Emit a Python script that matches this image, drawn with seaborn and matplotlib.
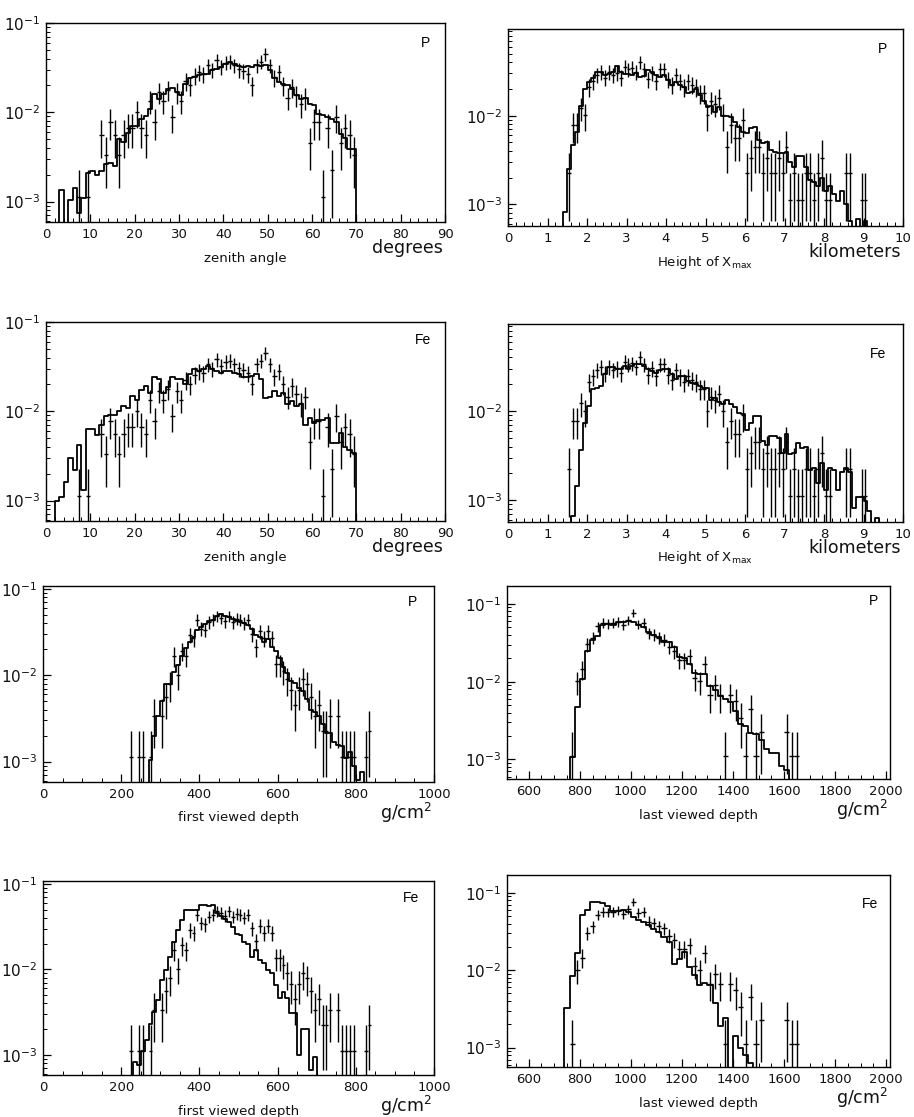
import numpy as np
import pandas as pd
import matplotlib
matplotlib.use("Agg")
import matplotlib.pyplot as plt
from matplotlib.ticker import MultipleLocator, LogLocator, NullFormatter
import seaborn as sns

# one data event corresponds to this bin content (normalised histograms)
event_weight = 1.12e-3

# ---- zenith angle, 1 degree bins starting at 0 ----
zenith_start, zenith_width = 0, 1
zenith_p_mc = [0, 0, 0, 1.36e-3, 0, 1.05e-3, 1.4e-3, 7.5e-4, 1.1e-3, 2.1e-3,
               2.2e-3, 2.0e-3, 2.2e-3, 2.6e-3, 2.7e-3, 2.5e-3, 5.0e-3, 4.6e-3, 5.9e-3, 7.1e-3,
               7.0e-3, 8.4e-3, 9.2e-3, 1.1e-2, 1.6e-2, 1.4e-2, 1.6e-2, 1.8e-2, 1.85e-2, 1.7e-2,
               1.55e-2, 2.1e-2, 2.4e-2, 2.5e-2, 2.6e-2, 2.65e-2, 2.7e-2, 3.0e-2, 3.05e-2, 3.2e-2,
               3.5e-2, 3.7e-2, 3.5e-2, 3.3e-2, 3.2e-2, 3.3e-2, 3.2e-2, 3.4e-2, 3.3e-2, 3.4e-2,
               2.95e-2, 2.4e-2, 2.2e-2, 2.1e-2, 2.0e-2, 1.8e-2, 1.55e-2, 1.4e-2, 1.45e-2, 1.25e-2,
               1.2e-2, 9.5e-3, 9.3e-3, 8.8e-3, 8.4e-3, 7.7e-3, 5.7e-3, 5.2e-3, 3.9e-3, 3.9e-3]
zenith_fe_mc = [0, 0, 1.0e-3, 1.1e-3, 1.6e-3, 3.0e-3, 2.2e-3, 4.2e-3, 1.3e-3, 6.3e-3,
                6.3e-3, 5.4e-3, 7.0e-3, 8.8e-3, 9.2e-3, 9.0e-3, 1.0e-2, 1.15e-2, 1.1e-2, 1.5e-2,
                1.35e-2, 1.75e-2, 1.9e-2, 1.6e-2, 2.4e-2, 2.3e-2, 1.6e-2, 1.85e-2, 2.45e-2, 2.3e-2,
                2.3e-2, 2.0e-2, 2.6e-2, 2.95e-2, 2.85e-2, 2.95e-2, 3.2e-2, 2.95e-2, 2.85e-2, 2.7e-2,
                2.85e-2, 2.8e-2, 2.7e-2, 2.6e-2, 2.45e-2, 2.45e-2, 2.5e-2, 2.6e-2, 2.3e-2, 1.4e-2,
                1.45e-2, 1.7e-2, 1.5e-2, 1.6e-2, 1.2e-2, 1.3e-2, 1.15e-2, 1.2e-2, 7.0e-3, 8.4e-3,
                7.4e-3, 8.0e-3, 8.0e-3, 8.4e-3, 4.4e-3, 4.4e-3, 5.7e-3, 4.0e-3, 3.7e-3, 3.4e-3]
zenith_data = [0, 0, 0, 0, 0, 0, 0, 1, 0, 1,
               0, 0, 5, 3, 7, 5, 3, 5, 6, 6,
               9, 6, 5, 12, 7, 15, 12, 16, 8, 15,
               12, 20, 18, 23, 25, 24, 30, 27, 34, 29,
               32, 33, 30, 27, 26, 24, 18, 30, 33, 40,
               30, 22, 25, 18, 13, 17, 14, 11, 13, 4,
               7, 7, 1, 6, 2, 8, 4, 6, 5, 3]

# ---- height of Xmax, 0.1 km bins starting at 1.4 km ----
height_start, height_width = 1.4, 0.1
height_p_mc = [8.2e-4, 2.5e-3, 4.7e-3, 6.6e-3, 1.3e-2, 2.0e-2, 2.4e-2, 2.65e-2, 3.1e-2, 3.1e-2,
               2.9e-2, 2.95e-2, 3.1e-2, 3.6e-2, 3.1e-2, 2.95e-2, 2.95e-2, 2.9e-2, 3.0e-2, 2.7e-2,
               2.8e-2, 3.3e-2, 3.1e-2, 2.9e-2, 2.7e-2, 2.9e-2, 2.5e-2, 2.2e-2, 2.4e-2, 2.2e-2,
               2.1e-2, 1.8e-2, 1.85e-2, 2.0e-2, 1.7e-2, 1.45e-2, 1.25e-2, 1.3e-2, 1.1e-2, 1.25e-2,
               1.0e-2, 1.0e-2, 9.7e-3, 8.5e-3, 7.5e-3, 6.6e-3, 6.3e-3, 7.2e-3, 7.5e-3, 5.3e-3,
               4.9e-3, 5.1e-3, 4.1e-3, 3.9e-3, 3.75e-3, 3.75e-3, 3.9e-3, 3.0e-3, 2.65e-3, 3.5e-3,
               3.5e-3, 2.65e-3, 1.9e-3, 1.8e-3, 1.6e-3, 2.0e-3, 1.4e-3, 1.6e-3, 1.3e-3, 1.1e-3,
               1.4e-3, 1.0e-3, 6.5e-4, 0, 6.8e-4, 0, 6.5e-4]
height_fe_mc = [0, 0, 6.6e-4, 1.45e-3, 3.7e-3, 7.4e-3, 1.15e-2, 1.75e-2, 1.8e-2, 1.9e-2,
                2.6e-2, 3.1e-2, 3.1e-2, 2.95e-2, 3.0e-2, 3.2e-2, 2.95e-2, 3.25e-2, 3.35e-2, 3.4e-2,
                3.2e-2, 2.95e-2, 2.8e-2, 2.7e-2, 2.9e-2, 2.95e-2, 3.0e-2, 2.6e-2, 2.3e-2, 2.45e-2,
                2.45e-2, 2.2e-2, 2.05e-2, 2.0e-2, 1.9e-2, 1.8e-2, 1.8e-2, 1.35e-2, 1.4e-2, 1.25e-2,
                1.2e-2, 1.35e-2, 1.2e-2, 1.1e-2, 9.6e-3, 9.2e-3, 6.2e-3, 7.4e-3, 8.8e-3, 8.9e-3,
                4.6e-3, 4.2e-3, 5.2e-3, 5.2e-3, 5.0e-3, 3.4e-3, 5.5e-3, 3.3e-3, 3.4e-3, 4.4e-3,
                3.9e-3, 4.0e-3, 2.2e-3, 2.3e-3, 1.55e-3, 2.6e-3, 1.3e-3, 2.3e-3, 2.2e-3, 1.3e-3,
                2.1e-3, 2.3e-3, 2.1e-3, 8.2e-4, 1.1e-3, 1.1e-3, 9.7e-4, 7.5e-4, 0, 6.3e-4]
height_data = [0, 2, 7, 7, 11, 9, 19, 22, 26, 28,
               24, 28, 26, 27, 24, 32, 30, 31, 28, 36,
               30, 23, 27, 22, 30, 30, 23, 20, 26, 22,
               19, 22, 20, 19, 16, 16, 9, 13, 12, 14,
               9, 4, 7, 5, 5, 8, 2, 3, 4, 4,
               2, 3, 2, 2, 3, 2, 4, 1, 2, 1,
               1, 2, 2, 1, 2, 3, 1, 1, 0, 0,
               0, 2, 2, 0, 0, 1, 1]

# ---- first viewed depth, 10 g/cm2 bins starting at 220 ----
first_start, first_width = 220, 10
first_p_mc = [0, 0, 0, 0, 0, 1.05e-3, 2.0e-3, 3.35e-3, 5.0e-3, 7.9e-3,
              7.9e-3, 1.1e-2, 1.3e-2, 1.65e-2, 2.05e-2, 2.4e-2, 2.75e-2, 3.3e-2, 3.6e-2, 3.95e-2,
              4.3e-2, 4.4e-2, 4.9e-2, 5.1e-2, 4.8e-2, 4.7e-2, 4.5e-2, 4.3e-2, 4.1e-2, 4.05e-2,
              3.8e-2, 3.45e-2, 2.9e-2, 2.75e-2, 2.4e-2, 2.6e-2, 2.15e-2, 1.9e-2, 1.6e-2, 1.25e-2,
              1.07e-2, 8.6e-3, 8.2e-3, 7.2e-3, 6.6e-3, 5.3e-3, 4.0e-3, 3.8e-3, 3.35e-3, 2.7e-3,
              2.15e-3, 2.15e-3, 1.7e-3, 1.55e-3, 1.5e-3, 1.1e-3, 1.3e-3, 8.8e-4, 6.1e-4, 7.6e-4]
first_fe_mc = [0, 8.3e-4, 7.5e-4, 1.1e-3, 1.5e-3, 2.3e-3, 3.2e-3, 4.4e-3, 7.5e-3, 9.8e-3,
               1.4e-2, 2.1e-2, 2.9e-2, 3.8e-2, 5.0e-2, 5.0e-2, 4.9e-2, 4.9e-2, 5.6e-2, 5.6e-2,
               5.5e-2, 5.7e-2, 4.5e-2, 4.2e-2, 3.9e-2, 3.6e-2, 3.1e-2, 2.6e-2, 2.5e-2, 2.1e-2,
               2.0e-2, 1.4e-2, 1.7e-2, 1.3e-2, 1.2e-2, 9.8e-3, 9.0e-3, 6.6e-3, 4.6e-3, 5.5e-3,
               4.6e-3, 3.05e-3, 3.1e-3, 1.0e-3, 2.0e-3, 2.0e-3, 6.6e-4, 9.5e-4]
first_data = [1, 0, 1, 1, 0, 1, 3, 0, 3, 5,
              7, 15, 9, 17, 15, 26, 24, 39, 31, 30,
              37, 39, 43, 41, 38, 43, 37, 40, 39, 36,
              39, 27, 19, 29, 24, 29, 24, 12, 12, 10,
              8, 6, 4, 6, 8, 7, 5, 3, 4, 2,
              2, 3, 0, 3, 1, 1, 1, 1, 0, 0,
              1, 2]

# ---- last viewed depth, 20 g/cm2 bins starting at 740 ----
last_start, last_width = 740, 20
last_p_mc = [0, 1.06e-3, 4.7e-3, 1.08e-2, 2.5e-2, 3.4e-2, 3.9e-2, 5.3e-2, 5.5e-2, 5.3e-2,
             5.8e-2, 5.8e-2, 6.1e-2, 5.8e-2, 5.3e-2, 5.0e-2, 4.3e-2, 4.0e-2, 3.7e-2, 3.2e-2,
             3.2e-2, 2.8e-2, 2.05e-2, 2.0e-2, 1.7e-2, 1.3e-2, 1.25e-2, 1.25e-2, 8.9e-3, 7.8e-3,
             6.6e-3, 6.0e-3, 5.4e-3, 4.2e-3, 2.85e-3, 2.7e-3, 2.2e-3, 2.1e-3, 1.8e-3, 1.35e-3,
             1.2e-3, 1.2e-3, 8.3e-4, 7.3e-4]
last_fe_mc = [3.2e-3, 8.4e-3, 1.67e-2, 5.1e-2, 6.0e-2, 7.5e-2, 7.5e-2, 7.3e-2, 6.8e-2, 5.9e-2,
              5.8e-2, 6.0e-2, 5.6e-2, 4.8e-2, 4.5e-2, 4.2e-2, 3.8e-2, 3.4e-2, 3.1e-2, 2.7e-2,
              2.3e-2, 1.2e-2, 1.4e-2, 1.7e-2, 1.1e-2, 8.6e-3, 6.4e-3, 6.9e-3, 6.4e-3, 3.8e-3,
              1.9e-3, 2.4e-3, 0, 1.4e-3, 1.0e-3, 8.0e-4, 6.3e-4]
last_data = [0, 1, 9, 13, 27, 33, 46, 51, 50, 51,
             53, 48, 55, 68, 49, 51, 38, 36, 33, 31,
             25, 22, 17, 17, 19, 10, 9, 15, 6, 8,
             6, 1, 6, 5, 3, 1, 4, 1, 2, 0,
             0, 0, 0, 2, 1, 1]

sns.set_theme(style="ticks")
plt.rcParams["font.family"] = ["DejaVu Sans"]
plt.rcParams["mathtext.default"] = "regular"

W, H = 914, 1117
fig = plt.figure(figsize=(W / 100, H / 100), dpi=100)
ink = "#111111"


def make_axes(left, top, right, bottom):
    return fig.add_axes([left / W, 1 - bottom / H, (right - left) / W, (bottom - top) / H])


def draw_panel(ax, start, width, mc, data, xlim, ylim, major, minor):
    mc = np.asarray(mc, float)
    # pad an empty bin on each side so the step line drops out of the frame
    edges = start + width * np.arange(-1, len(mc) + 2)
    heights = np.concatenate([[0.0], mc, [0.0], [0.0]])
    steps = pd.DataFrame({"x": edges, "y": heights})
    sns.lineplot(data=steps, x="x", y="y", drawstyle="steps-post", estimator=None,
                 sort=False, color="black", linewidth=1.3, ax=ax)

    n = np.asarray(data, float)
    xc = start + width * (np.arange(len(n)) + 0.5)
    keep = n > 0
    ax.errorbar(xc[keep], n[keep] * event_weight, yerr=np.sqrt(n[keep]) * event_weight,
                xerr=width / 2, fmt="none", ecolor="black", elinewidth=1.0, capsize=0)

    ax.set_yscale("log")
    ax.set_xlim(xlim)
    ax.set_ylim(ylim)
    ax.set_xlabel("")
    ax.set_ylabel("")
    ax.xaxis.set_major_locator(MultipleLocator(major))
    ax.xaxis.set_minor_locator(MultipleLocator(minor))
    ax.yaxis.set_major_locator(LogLocator(base=10, numticks=10))
    ax.yaxis.set_minor_locator(LogLocator(base=10, subs=np.arange(2, 10), numticks=30))
    ax.yaxis.set_minor_formatter(NullFormatter())
    ax.tick_params(which="both", direction="in", top=False, right=False, color="black")
    ax.tick_params(which="major", length=6, width=0.9)
    ax.tick_params(which="minor", length=3, width=0.7)
    ax.tick_params(axis="x", labelsize=9.5, pad=4, labelcolor=ink)
    ax.tick_params(axis="y", labelsize=11, pad=4, labelcolor=ink)
    for sp in ax.spines.values():
        sp.set_visible(True)
        sp.set_color("black")
        sp.set_linewidth(1.0)


def add_labels(ax, box, unit, unit_dy, label, tag, tag_pos):
    left, top, right, bottom = box
    fig.text((right - 2) / W, 1 - (bottom + unit_dy) / H, unit, ha="right", va="center",
             fontsize=12.5, color=ink)
    fig.text((left + right) / 2 / W, 1 - (bottom + 36) / H, label, ha="center", va="center",
             fontsize=9.5, color=ink)
    ax.text(tag_pos[0], tag_pos[1], tag, transform=ax.transAxes, ha="center", va="center",
            fontsize=10, family=["Liberation Sans", "DejaVu Sans"], color="black")


panels = [
    # box (left, top, right, bottom) in pixels, variable, model, tag
    ((46, 23, 445, 222), "zenith", "P", (0.95, 0.90)),
    ((508, 29, 903, 226), "height", "P", (0.947, 0.90)),
    ((46, 322, 445, 521), "zenith", "Fe", (0.945, 0.91)),
    ((508, 324, 903, 522), "height", "Fe", (0.937, 0.85)),
    ((43, 586, 434, 782), "first", "P", (0.944, 0.92)),
    ((507, 586, 890, 779), "last", "P", (0.956, 0.92)),
    ((43, 881, 434, 1075), "first", "Fe", (0.94, 0.91)),
    ((507, 875, 890, 1067), "last", "Fe", (0.948, 0.85)),
]

settings = {
    "zenith": dict(start=zenith_start, width=zenith_width, data=zenith_data,
                   mc={"P": zenith_p_mc, "Fe": zenith_fe_mc},
                   xlim=(0, 90), ylim=(5.9e-4, 0.1), major=10, minor=2,
                   unit="degrees", unit_dy=26, label="zenith angle"),
    "height": dict(start=height_start, width=height_width, data=height_data,
                   mc={"P": height_p_mc, "Fe": height_fe_mc},
                   xlim=(0, 10), ylim=(5.7e-4, 0.095), major=1, minor=0.2,
                   unit="kilometers", unit_dy=26, label="Height of X$_{max}$"),
    "first": dict(start=first_start, width=first_width, data=first_data,
                  mc={"P": first_p_mc, "Fe": first_fe_mc},
                  xlim=(0, 1000), ylim=(5.8e-4, 0.108), major=200, minor=50,
                  unit="g/cm$^2$", unit_dy=31, label="first viewed depth"),
    "last": dict(start=last_start, width=last_width, data=last_data,
                 mc={"P": last_p_mc, "Fe": last_fe_mc},
                 xlim=(515, 2015), ylim=(5.6e-4, 0.17), major=200, minor=50,
                 unit="g/cm$^2$", unit_dy=31, label="last viewed depth"),
}

for box, var, model, tag_pos in panels:
    s = settings[var]
    ax = make_axes(*box)
    draw_panel(ax, s["start"], s["width"], s["mc"][model], s["data"],
               s["xlim"], s["ylim"], s["major"], s["minor"])
    add_labels(ax, box, s["unit"], s["unit_dy"], s["label"], model, tag_pos)

fig.savefig("out.png", dpi=100, facecolor="white")
